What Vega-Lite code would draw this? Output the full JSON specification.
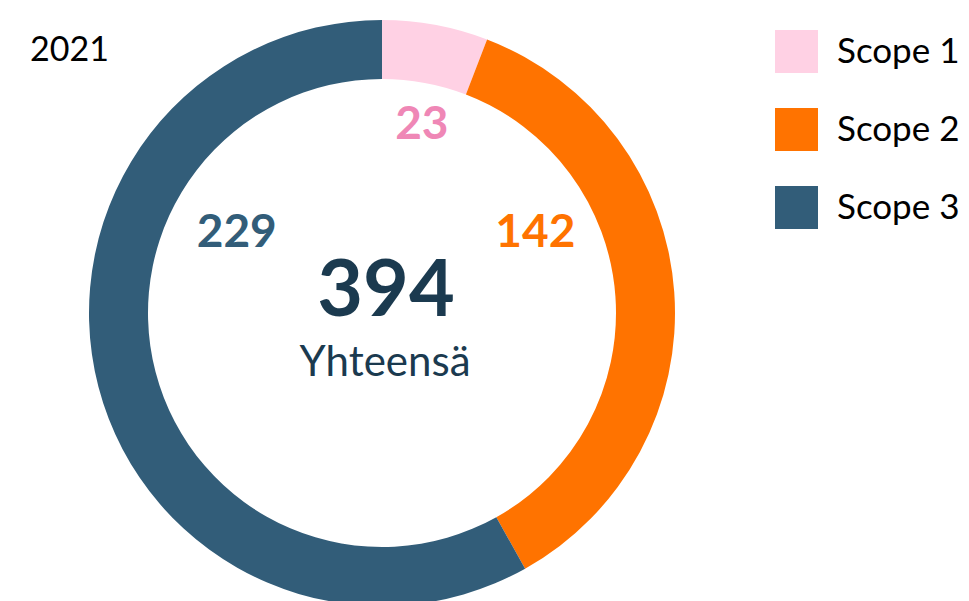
{
  "$schema": "https://vega.github.io/schema/vega-lite/v6.json",
  "width": 764,
  "height": 626,
  "padding": 0,
  "autosize": {"type": "pad"},
  "background": "white",
  "config": {"view": {"stroke": null}, "font": "Lato"},
  "title": {"text": "2021", "anchor": "start", "frame": "group", "fontSize": 34, "fontWeight": "normal", "color": "#000000", "font": "Lato", "baseline": "alphabetic", "offset": -61, "dx": 30, "dy": 34},
  "data": {"values": [
    {"scope": "Scope 1", "value": 23},
    {"scope": "Scope 2", "value": 142},
    {"scope": "Scope 3", "value": 229}
  ]},
  "layer": [
    {
      "mark": {"type": "arc", "innerRadius": 234, "outerRadius": 293},
      "encoding": {
        "theta": {"field": "value", "type": "quantitative", "stack": true},
        "order": {"field": "scope", "sort": "ascending"},
        "color": {
          "field": "scope", "type": "nominal",
          "scale": {"domain": ["Scope 1", "Scope 2", "Scope 3"], "range": ["#ffd1e4", "#ff7300", "#325d79"]},
          "legend": {"title": null, "orient": "none", "legendX": 775, "legendY": 30, "symbolType": "square", "symbolSize": 1849, "symbolStrokeWidth": 0, "symbolOpacity": 1, "labelFontSize": 35, "labelColor": "#000000", "labelFont": "Lato", "labelOffset": 19, "rowPadding": 35, "padding": 0}
        }
      }
    },
    {
      "transform": [{"stack": "value", "groupby": [], "sort": [{"field": "scope", "order": "ascending"}], "as": ["v0", "v1"]}, {"filter": "datum.scope === 'Scope 1'"}],
      "mark": {"type": "text", "radius": 192, "thetaOffset": 0.209, "fontSize": 46, "fontWeight": "bold", "color": "#ef87b6", "align": "center", "baseline": "middle", "font": "Lato"},
      "encoding": {
        "theta": {"field": "v0", "type": "quantitative", "stack": null},
        "text": {"field": "value", "type": "quantitative"}
      }
    },
    {
      "transform": [{"stack": "value", "groupby": [], "sort": [{"field": "scope", "order": "ascending"}], "as": ["v0", "v1"]}, {"filter": "datum.scope === 'Scope 2'"}],
      "mark": {"type": "text", "radius": 173, "thetaOffset": 0.722, "fontSize": 46, "fontWeight": "bold", "color": "#ff7300", "align": "center", "baseline": "middle", "font": "Lato"},
      "encoding": {
        "theta": {"field": "v0", "type": "quantitative", "stack": null},
        "text": {"field": "value", "type": "quantitative"}
      }
    },
    {
      "transform": [{"stack": "value", "groupby": [], "sort": [{"field": "scope", "order": "ascending"}], "as": ["v0", "v1"]}, {"filter": "datum.scope === 'Scope 3'"}],
      "mark": {"type": "text", "radius": 166, "thetaOffset": 2.586, "fontSize": 46, "fontWeight": "bold", "color": "#325d79", "align": "center", "baseline": "middle", "font": "Lato"},
      "encoding": {
        "theta": {"field": "v0", "type": "quantitative", "stack": null},
        "text": {"field": "value", "type": "quantitative"}
      }
    },
    {
      "transform": [{"aggregate": [{"op": "sum", "field": "value", "as": "total"}]}],
      "mark": {"type": "text", "fontSize": 79, "fontWeight": "bold", "color": "#1b3a4f", "align": "center", "baseline": "alphabetic", "dx": 4, "dy": 3, "font": "Lato"},
      "encoding": {
        "text": {"field": "total", "type": "quantitative"}
      }
    },
    {
      "transform": [{"aggregate": [{"op": "sum", "field": "value", "as": "total"}]}],
      "mark": {"type": "text", "text": "Yhteensä", "fontSize": 42, "fontWeight": "normal", "color": "#1b3a4f", "align": "center", "baseline": "alphabetic", "dx": 3, "dy": 63, "font": "Lato"},
      "encoding": {}
    }
  ]
}
